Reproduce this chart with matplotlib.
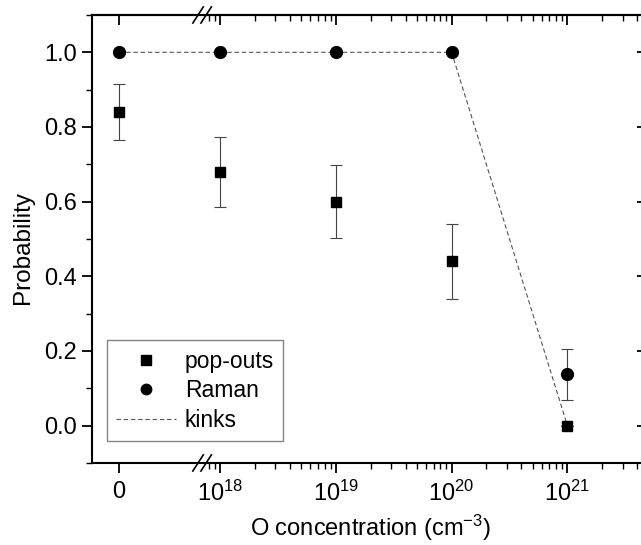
import numpy as np
import matplotlib
matplotlib.use("Agg")
import matplotlib.pyplot as plt
import matplotlib.transforms as mtransforms
from matplotlib.lines import Line2D

plt.rcParams['font.family'] = ['Liberation Sans', 'DejaVu Sans']
plt.rcParams['mathtext.fontset'] = 'custom'
plt.rcParams['mathtext.rm'] = 'Liberation Sans'
plt.rcParams['mathtext.it'] = 'Liberation Sans:italic'
plt.rcParams['mathtext.bf'] = 'Liberation Sans:bold'

# data
conc = [0, 1e18, 1e19, 1e20, 1e21]
popouts = [0.84, 0.68, 0.60, 0.44, 0.0]
popouts_err = [0.075, 0.093, 0.098, 0.10, 0.0]
raman = [1.0, 1.0, 1.0, 1.0, 0.137]
raman_err = [0.0, 0.0, 0.0, 0.0, 0.068]
kinks = [1.0, 1.0, 1.0, 1.0, 0.0]
xtick_labels = ['0', r'$\mathrm{10^{18}}$', r'$\mathrm{10^{19}}$',
                r'$\mathrm{10^{20}}$', r'$\mathrm{10^{21}}$']

# broken x axis: zero gets its own slot left of the log decades
ZERO_POS = 17.127
BREAK_POS = 17.86
X_LEFT, X_RIGHT = 16.894, 21.67


def to_u(c):
    c = np.asarray(c, dtype=float)
    out = np.full(c.shape, ZERO_POS)
    pos = c > 0
    out[pos] = np.log10(c[pos])
    return out


u = to_u(conc)

fig = plt.figure(figsize=(6.41, 5.45), dpi=100)
ax = fig.add_axes([0.1435, 0.1505, 0.8627, 0.822])

ax.plot(u, kinks, linestyle=(0, (4, 2.5)), color='#555555', lw=0.8, zorder=2)
ax.errorbar(u, popouts, yerr=popouts_err, fmt='s', color='black', ms=7,
            ecolor='#444444', elinewidth=0.8, capsize=4, capthick=0.8,
            zorder=3)
ax.errorbar(u, raman, yerr=raman_err, fmt='o', color='black', ms=8.5,
            ecolor='#444444', elinewidth=0.8, capsize=4, capthick=0.8,
            zorder=3)

ax.set_xlim(X_LEFT, X_RIGHT)
ax.set_ylim(-0.1, 1.1)

major_u = to_u(conc)
minor_u = [np.log10(k * 10.0 ** n) for n in range(17, 22) for k in range(2, 10)]
minor_u = [m for m in minor_u if BREAK_POS + 0.03 < m < X_RIGHT]

ax.set_xticks(major_u)
ax.set_xticklabels(xtick_labels)
ax.set_xticks(minor_u, minor=True)
ax.set_yticks(np.arange(0, 1.01, 0.2))
ax.set_yticks(np.arange(-0.1, 1.11, 0.1), minor=True)
ax.set_yticklabels(['0.0', '0.2', '0.4', '0.6', '0.8', '1.0'])

ax.tick_params(which='major', direction='out', length=7, width=1.3,
               labelsize=17, pad=4)
ax.tick_params(which='minor', direction='out', length=4, width=1.0)
ax.tick_params(axis='x', which='major', pad=6)

for sp in ax.spines.values():
    sp.set_linewidth(1.5)

# top axis: inward ticks, major and minor
top = ax.secondary_xaxis('top')
top.set_xticks(major_u)
top.set_xticks(minor_u, minor=True)
top.tick_params(which='major', direction='in', length=7, width=1.3,
                labeltop=False)
top.tick_params(which='minor', direction='in', length=4, width=1.0)
top.spines['top'].set_linewidth(1.5)

# right axis: inward major ticks only
right = ax.secondary_yaxis('right')
right.set_yticks(np.arange(0, 1.01, 0.2))
right.tick_params(which='major', direction='in', length=6, width=1.3,
                  labelright=False)
right.tick_params(which='minor', length=0)
right.spines['right'].set_linewidth(1.5)

# break marks on top and bottom spines
trans = mtransforms.blended_transform_factory(ax.transData, ax.transAxes)
for yb in (0.0, 1.0):
    for dx in (-0.05, 0.02):
        ax.plot([BREAK_POS + dx - 0.045, BREAK_POS + dx + 0.045],
                [yb - 0.018, yb + 0.018], color='black', lw=1.2,
                transform=trans, clip_on=False, zorder=5)

ax.set_ylabel('Probability', fontsize=17.5)
ax.yaxis.set_label_coords(-0.105, 0.482)
ax.set_xlabel(r'O concentration (cm$^{\mathrm{-3}}$)', fontsize=17)
ax.xaxis.set_label_coords(0.503, -0.112)

handles = [
    Line2D([], [], ls='none', marker='s', ms=6.5, color='black'),
    Line2D([], [], ls='none', marker='o', ms=7.5, color='black'),
    Line2D([], [], linestyle=(0, (4, 2.5)), color='#555555', lw=0.8),
]
leg = ax.legend(handles, ['pop-outs', 'Raman', 'kinks'],
                loc='lower left', bbox_to_anchor=(0.027, 0.048),
                fontsize=16.5, frameon=True, fancybox=False, handlelength=2.6,
                handletextpad=0.4, labelspacing=0.3, borderpad=0.4,
                borderaxespad=0)
leg.get_frame().set_edgecolor('#666666')
leg.get_frame().set_linewidth(1.0)

fig.savefig('out.png', dpi=100)
